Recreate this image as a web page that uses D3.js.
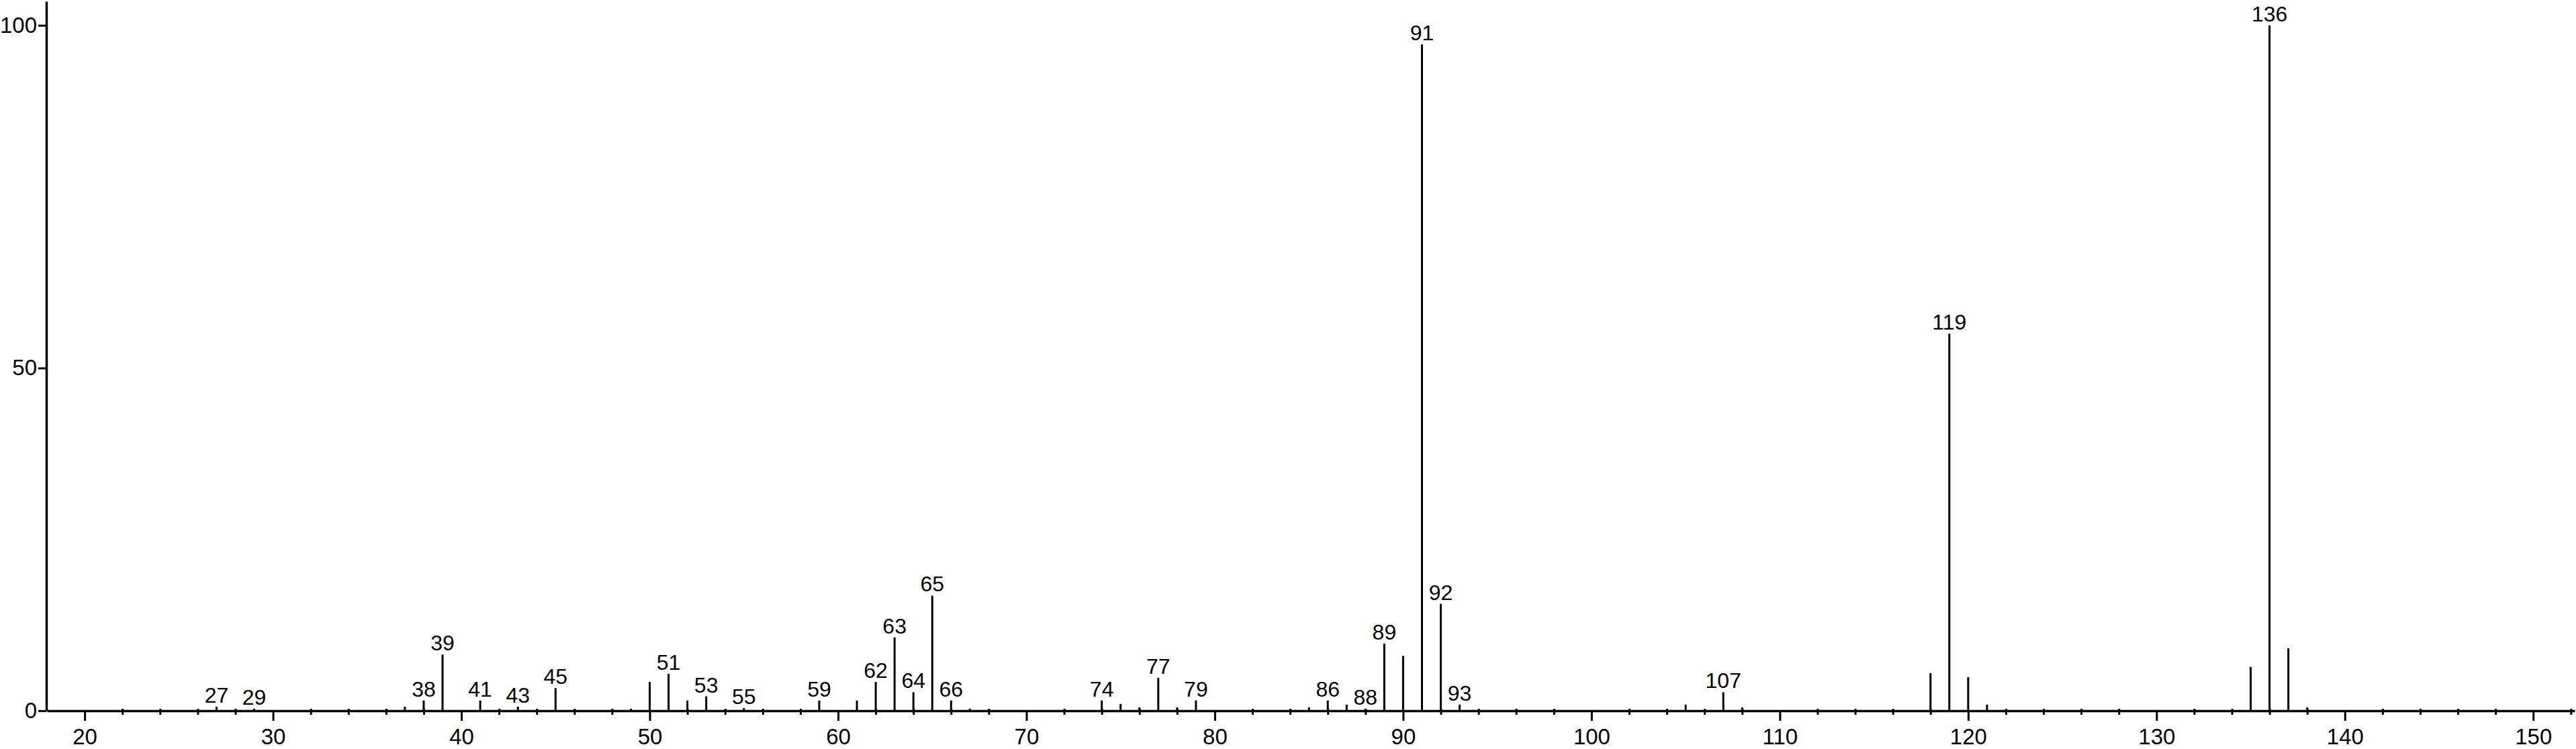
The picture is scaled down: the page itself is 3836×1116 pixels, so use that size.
<!DOCTYPE html>
<html><head><meta charset="utf-8">
<script src="https://cdn.jsdelivr.net/npm/d3@7"></script>
<style>
html,body{margin:0;padding:0;background:#fff;}
svg{display:block;}
text{font-family:"Liberation Sans",Arial,sans-serif;fill:#000;}
</style></head>
<body>
<script>
// m/z values and relative intensities (%)
const mz        = [27,29,37,38,39,41,43,45,49,50,51,52,53,55,59,61,62,63,64,65,66,67,74,75,76,77,78,79,85,86,87,88,89,90,91,92,93,105,107,108,118,119,120,121,135,136,137,138];
const intensity = [0.6,0.3,0.6,1.5,8.2,1.5,0.6,3.3,0.3,4.2,5.4,1.5,2.1,0.4,1.5,1.5,4.2,10.7,2.7,16.8,1.5,0.3,1.5,1.0,0.5,4.8,0.5,1.5,0.5,1.5,0.9,0.3,9.8,8.0,97.2,15.6,0.9,0.9,2.7,0.5,5.5,55.0,4.9,0.9,6.4,100,9.1,0.5];
const labeled   = [27,29,38,39,41,43,45,51,53,55,59,62,63,64,65,66,74,77,79,86,88,89,91,92,93,107,119,136];
const xMajorTicks = [20,30,40,50,60,70,80,90,100,110,120,130,140,150];
const xMinorTicks = d3.range(20,153,2).filter(v => v % 10 !== 0);
const yTicks = [0,50,100];

const W = 3836, H = 1116;
const svg = d3.select("body").append("svg").attr("width", W).attr("height", H);

const x = d3.scaleLinear().domain([18, 152.2]).range([70, 3834]);
const y = d3.scaleLinear().domain([0, 103.5]).range([1059, 2]);

const peaks = mz.map((m, i) => ({mz: m, v: intensity[i]}));

// peaks
svg.append("g").selectAll("line").data(peaks).join("line")
  .attr("x1", d => x(d.mz)).attr("x2", d => x(d.mz))
  .attr("y1", y(0)).attr("y2", d => y(d.v))
  .attr("stroke", "#000").attr("stroke-width", 3);

// minor x ticks
const minor = svg.append("g").attr("transform", `translate(0,${y(0) - 3})`)
  .call(d3.axisBottom(x).tickValues(xMinorTicks).tickSize(9).tickFormat(""));
minor.select(".domain").remove();
minor.selectAll(".tick line").attr("stroke-width", 3);

// major x axis
const xa = svg.append("g").attr("transform", `translate(0,${y(0)})`)
  .call(d3.axisBottom(x).tickValues(xMajorTicks).tickSize(15).tickSizeOuter(0).tickPadding(12));
xa.select(".domain").attr("stroke-width", 3.5);
xa.selectAll(".tick line").attr("stroke-width", 3);
xa.selectAll(".tick text").attr("font-size", 33).attr("font-family", "Liberation Sans, Arial, sans-serif");

// y axis
const ya = svg.append("g").attr("transform", `translate(69,0)`)
  .call(d3.axisLeft(y).tickValues(yTicks).tickSize(12).tickSizeOuter(0).tickPadding(2));
ya.select(".domain").attr("stroke-width", 3.5);
ya.selectAll(".tick line").attr("stroke-width", 3);
ya.selectAll(".tick text").attr("font-size", 33).attr("font-family", "Liberation Sans, Arial, sans-serif");

// peak labels
svg.append("g").selectAll("text").data(peaks.filter(d => labeled.includes(d.mz))).join("text")
  .attr("x", d => x(d.mz)).attr("y", d => y(d.v) - 6)
  .attr("text-anchor", "middle").attr("font-size", 32)
  .text(d => d.mz);
</script>
</body></html>
